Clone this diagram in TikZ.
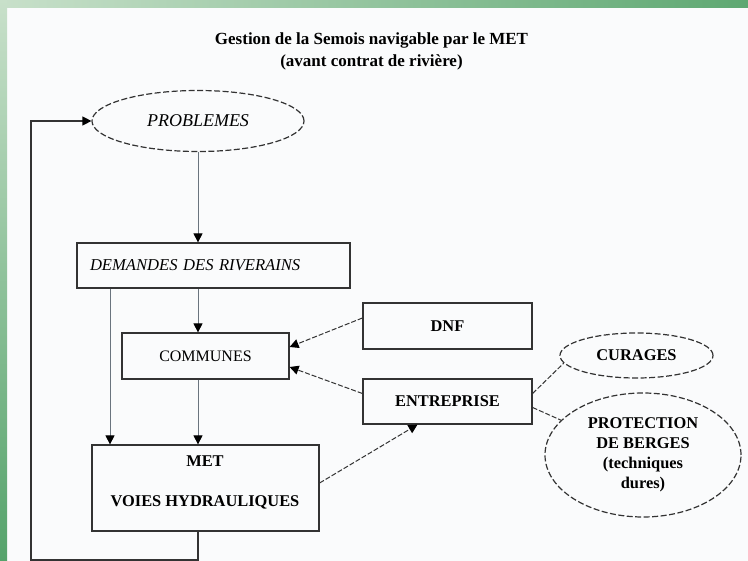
\documentclass[tikz,border=0pt]{standalone}
\usepackage{fontspec}
\setmainfont{Liberation Serif}
\usetikzlibrary{shapes.geometric,arrows.meta}
\definecolor{bgc}{HTML}{FAFBFC}
\definecolor{frameTL}{HTML}{C8E0CA}
\definecolor{frameTR}{HTML}{5EA872}
\definecolor{frameBL}{HTML}{55A36B}
\definecolor{boxc}{HTML}{333333}
\definecolor{linec}{HTML}{6A747E}
\definecolor{fbc}{HTML}{333333}
\begin{document}
\begin{tikzpicture}[x=1pt,y=-1pt,
  box/.style={draw=boxc, line width=1.2pt, rectangle, inner sep=0pt},
  oval/.style={ellipse, draw=boxc, line width=1.2pt, dash pattern=on 6pt off 2.5pt, inner sep=0pt},
  conn/.style={draw=linec, line width=0.8pt},
  fbline/.style={draw=fbc, line width=1.2pt},
  tip/.style={-{Triangle[width=9pt,length=9pt,color=black]}},
  dconn/.style={draw=boxc, line width=1pt, dash pattern=on 5pt off 2pt},
  bt/.style={font=\bfseries\fontsize{16.4}{20}\selectfont},
  rt/.style={font=\fontsize{16}{20}\selectfont},
  it/.style={font=\itshape\fontsize{16.6}{20}\selectfont}
]
\useasboundingbox (0,0) rectangle (748,561);
\fill[bgc] (0,0) rectangle (748,561);
\shade[left color=frameTL, right color=frameTR] (0,0) rectangle (748,8);
\shade[top color=frameTL, bottom color=frameBL] (0,0) rectangle (7,561);

% title
\node[align=center, font=\bfseries\fontsize{17}{22}\selectfont] (title) at (371.5,51)
  {Gestion de la Semois navigable par le MET\\(avant contrat de rivière)};

% nodes
\node[oval, minimum width=212pt, minimum height=61pt, font=\itshape\fontsize{18}{20}\selectfont] (prob) at (198,121) {PROBLEMES};
\node[box, it, minimum width=273pt, minimum height=45pt, text width=247pt, inner xsep=13pt, align=left] (dem) at (213.5,265.5) {DEMANDES DES RIVERAINS};
\node[box, rt, minimum width=167pt, minimum height=46pt] (com) at (205.5,356) {COMMUNES};
\node[box, minimum width=227pt, minimum height=86pt] (met) at (205.5,488) {};
\node[bt, align=center] (mettxt) at (205,482) {MET\\[20pt]VOIES HYDRAULIQUES};
\node[box, bt, minimum width=169pt, minimum height=46pt] (dnf) at (447.5,326) {DNF};
\node[box, bt, minimum width=169pt, minimum height=45pt] (ent) at (447.5,401.5) {ENTREPRISE};
\node[oval, bt, minimum width=153pt, minimum height=45pt] (cur) at (636.5,355.5) {CURAGES};
\node[oval, bt, align=center, minimum width=196pt, minimum height=124pt] (prot) at (643,455) {PROTECTION\\DE BERGES\\(techniques\\dures)};

% helper coordinates
\coordinate (axis) at (198,0);
\coordinate (axisB) at (110,0);
\coordinate (fb) at (31,560);

% solid connectors
\draw[conn, tip] (prob.south) -- (prob.south |- dem.north);
\draw[conn, tip] (dem.south -| axis) -- (com.north -| axis);
\draw[conn, tip] (dem.south -| axisB) -- (met.north -| axisB);
\draw[conn, tip] (com.south -| axis) -- (met.north -| axis);
\draw[fbline, tip] (met.south -| axis) -- (axis |- fb) -- (fb) -- (fb |- prob.west) -- (prob.west);

% dashed connectors
\draw[dconn, tip] ([yshift=8pt]dnf.west) -- ([yshift=9pt]com.east);
\draw[dconn, tip] ([yshift=8pt]ent.west) -- ([yshift=-11pt]com.east);
\draw[dconn, tip] ([yshift=5pt]met.east) -- ([xshift=-30pt]ent.south);
\draw[dconn] ([yshift=8pt]ent.east) -- (cur.186);
\draw[dconn] ([yshift=-6pt]ent.east) -- (prot.157);
\end{tikzpicture}
\end{document}
